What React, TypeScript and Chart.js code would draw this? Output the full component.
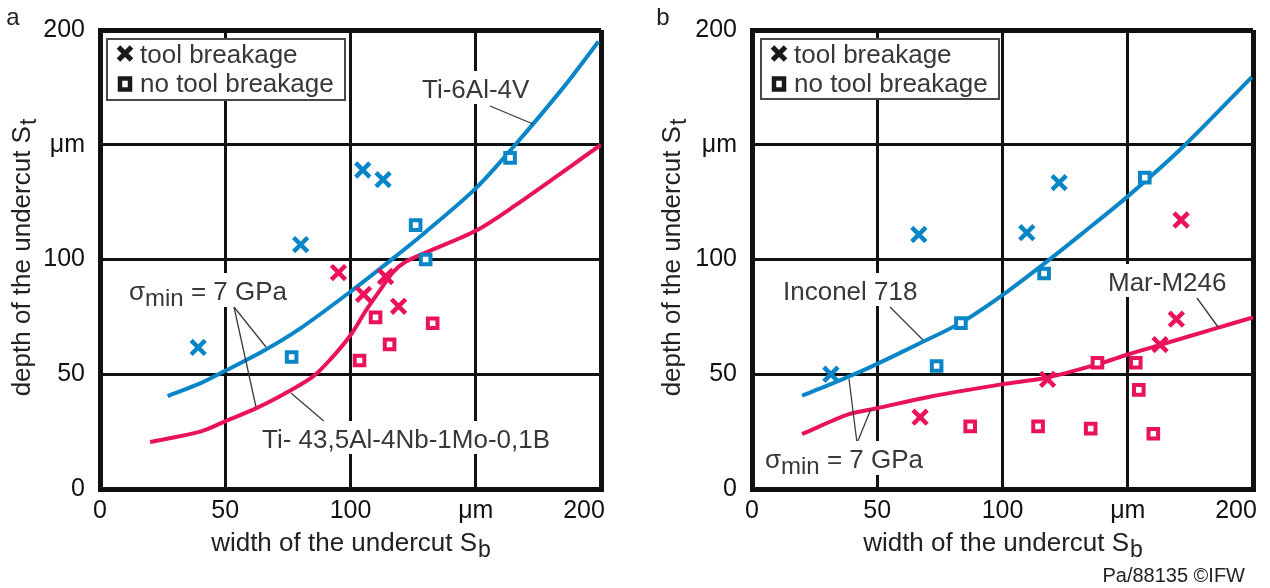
import React, { useEffect, useRef } from "react";
import { Chart, registerables } from "chart.js";

Chart.register(...registerables);

// ---------- shared axis ticks ----------
const tickValues = [0, 50, 100, 150, 200];
const tickLabels = ["0", "50", "100", "μm", "200"];

// ---------- panel a : Ti-6Al-4V (blue) / Ti-43,5Al-4Nb-1Mo-0,1B (red) ----------
const aTi64CurveX = [27, 40, 50, 65, 80, 100, 117, 130, 150, 165, 185, 199];
const aTi64CurveY = [40.5, 46, 51.5, 60, 70, 86, 100.5, 112, 131, 149, 175, 195];
const aTiAlCurveX = [20, 40, 50, 62, 72, 85, 92, 100, 106, 112, 117, 122, 130, 150, 165, 200];
const aTiAlCurveY = [20.5, 25, 29.5, 35, 40.5, 49, 56.5, 67, 77.5, 87, 94.5, 99, 103, 112.5, 123, 150];
const aTi64BreakX = [39.2, 80.1, 104.9, 113];
const aTi64BreakY = [61.7, 106.5, 139, 134.8];
const aTi64NoBreakX = [76.5, 126, 130, 163.7];
const aTi64NoBreakY = [57.5, 115, 100, 144.3];
const aTiAlBreakX = [95.2, 105.2, 114, 119.2];
const aTiAlBreakY = [94.3, 84.8, 92.6, 79.6];
const aTiAlNoBreakX = [110, 132.8, 115.6, 103.6];
const aTiAlNoBreakY = [74.8, 72.2, 63, 56];

// ---------- panel b : Inconel 718 (blue) / Mar-M246 (red) ----------
const bInconelCurveX = [20, 30, 43, 50, 67, 83.5, 100, 117, 132, 150, 172, 199.5];
const bInconelCurveY = [40.7, 45, 51, 54.5, 63.5, 72.5, 84.5, 98.5, 111.5, 127.5, 149, 179.5];
const bMarCurveX = [20, 38.7, 50, 71, 100, 118, 138, 150, 163, 185.5, 200];
const bMarCurveY = [23.9, 32.6, 35.2, 40.2, 45.7, 48.6, 54.4, 58.6, 62.8, 70.1, 74.8];
const bInconelBreakX = [31.5, 66.6, 109.7, 122.6];
const bInconelBreakY = [50, 110.9, 111.7, 133.5];
const bInconelNoBreakX = [73.7, 83.4, 116.6, 156.8];
const bInconelNoBreakY = [53.6, 72.3, 93.9, 135.7];
const bMarBreakX = [67.1, 118, 162.9, 169.4, 171.3];
const bMarBreakY = [31.3, 47.8, 62.9, 74, 117.2];
const bMarNoBreakX = [87.1, 114.2, 135.2, 137.9, 153.2, 154.4, 160.2];
const bMarNoBreakY = [27.3, 27.3, 26.3, 55, 55, 43.2, 24.1];

// ---------- styling ----------
const BLUE = "#0a86c8";
const RED = "#e9125b";
const INK = "#111111";
const TEXT = "#383838";
const FONT = "'Liberation Sans', Arial, Helvetica, sans-serif";
const W = 635;
const H = 588;

const pts = (xs: number[], ys: number[]) => xs.map((x, i) => ({ x, y: ys[i] }));

type TextSpec = { x: number; y: number; text?: string; sigma?: boolean };
type PanelSpec = {
  letter: string;
  letterX: number;
  chartRight: number;
  chartLeft: number;
  yTitleX: number;
  legend: [number, number, number, number];
  texts: TextSpec[];
  leaders: number[][];
  footer: boolean;
};

function markerSets(breakB: any[], noBreakB: any[], breakR: any[], noBreakR: any[]) {
  const cross = (data: any[], color: string) => ({
    data,
    showLine: false,
    pointStyle: "crossRot",
    pointRadius: 10,
    pointBorderWidth: 4.5,
    pointBorderColor: color,
    pointBackgroundColor: color,
  });
  const square = (data: any[], color: string) => ({
    data,
    showLine: false,
    pointStyle: "rect",
    pointRadius: 6.8,
    pointBorderWidth: 4,
    pointBorderColor: color,
    pointBackgroundColor: "#ffffff",
  });
  return [cross(breakB, BLUE), square(noBreakB, BLUE), cross(breakR, RED), square(noBreakR, RED)];
}

function curve(data: any[], color: string) {
  return {
    data,
    showLine: true,
    borderColor: color,
    borderWidth: 4,
    pointRadius: 0,
    fill: false,
    tension: 0.3,
  };
}

function drawSubText(ctx: CanvasRenderingContext2D, main: string, sub: string, x: number, y: number) {
  ctx.font = `26px ${FONT}`;
  ctx.fillText(main, x, y);
  const w = ctx.measureText(main).width;
  ctx.font = `23px ${FONT}`;
  ctx.fillText(sub, x + w + 1, y + 6);
  return w + 1 + ctx.measureText(sub).width;
}

function overlay(spec: PanelSpec) {
  return {
    id: "overlay" + spec.letter,
    afterDraw(chart: any) {
      const ctx: CanvasRenderingContext2D = chart.ctx;
      const xs = chart.scales.x;
      const area = chart.chartArea;
      ctx.save();

      // x tick labels (placed through the x scale)
      ctx.font = `25px ${FONT}`;
      ctx.fillStyle = INK;
      ctx.textBaseline = "alphabetic";
      ctx.textAlign = "center";
      tickValues.forEach((v, i) => {
        let px = xs.getPixelForValue(v);
        if (i === tickValues.length - 1) px -= 17;
        ctx.fillText(tickLabels[i], px, area.bottom + 29);
      });

      // annotation leaders
      ctx.strokeStyle = "#3a3a3a";
      ctx.lineWidth = 1.3;
      spec.leaders.forEach((l) => {
        ctx.beginPath();
        ctx.moveTo(l[0], l[1]);
        ctx.lineTo(l[2], l[3]);
        ctx.stroke();
      });

      // annotation texts with white background
      ctx.textAlign = "left";
      spec.texts.forEach((t) => {
        let w = 0;
        if (t.sigma) {
          ctx.font = `26px ${FONT}`;
          const w1 = ctx.measureText("σ").width;
          ctx.font = `24px ${FONT}`;
          const w2 = ctx.measureText("min").width;
          ctx.font = `26px ${FONT}`;
          const w3 = ctx.measureText(" = 7 GPa").width;
          w = w1 + w2 + w3;
          ctx.fillStyle = "#ffffff";
          ctx.fillRect(t.x - 3, t.y - 27, w + 6, 34);
          ctx.fillStyle = TEXT;
          ctx.font = `26px ${FONT}`;
          ctx.fillText("σ", t.x, t.y);
          ctx.font = `24px ${FONT}`;
          ctx.fillText("min", t.x + w1, t.y + 6);
          ctx.font = `26px ${FONT}`;
          ctx.fillText(" = 7 GPa", t.x + w1 + w2, t.y);
        } else {
          ctx.font = `26px ${FONT}`;
          w = ctx.measureText(t.text || "").width;
          ctx.fillStyle = "#ffffff";
          ctx.fillRect(t.x - 3, t.y - 27, w + 6, 33);
          ctx.fillStyle = TEXT;
          ctx.fillText(t.text || "", t.x, t.y);
        }
      });

      // legend
      const [l, tp, r, b] = spec.legend;
      ctx.fillStyle = "#ffffff";
      ctx.fillRect(l, tp, r - l, b - tp);
      ctx.strokeStyle = "#484848";
      ctx.lineWidth = 2;
      ctx.strokeRect(l, tp, r - l, b - tp);
      ctx.strokeStyle = "#1a1a1a";
      ctx.lineWidth = 5;
      const cx = l + 18;
      ctx.beginPath();
      ctx.moveTo(cx - 6.5, 47);
      ctx.lineTo(cx + 6.5, 60);
      ctx.moveTo(cx + 6.5, 47);
      ctx.lineTo(cx - 6.5, 60);
      ctx.stroke();
      ctx.lineWidth = 4.5;
      ctx.strokeRect(cx - 5, 78.5, 10, 11);
      ctx.fillStyle = TEXT;
      ctx.font = `26px ${FONT}`;
      ctx.fillText("tool breakage", l + 33, 63);
      ctx.fillText("no tool breakage", l + 33, 92);

      // axis titles
      ctx.fillStyle = "#222222";
      const xMain = "width of the undercut S";
      ctx.font = `26px ${FONT}`;
      const xw = ctx.measureText(xMain).width;
      ctx.font = `23px ${FONT}`;
      const xsw = ctx.measureText("b").width;
      const xStart = (area.left + area.right) / 2 - (xw + xsw) / 2;
      drawSubText(ctx, xMain, "b", xStart, 551);

      const yMain = "depth of the undercut S";
      ctx.font = `26px ${FONT}`;
      const yw = ctx.measureText(yMain).width;
      ctx.font = `23px ${FONT}`;
      const ysw = ctx.measureText("t").width;
      ctx.save();
      ctx.translate(spec.yTitleX + 9, 258);
      ctx.rotate(-Math.PI / 2);
      drawSubText(ctx, yMain, "t", -(yw + ysw) / 2, 0);
      ctx.restore();

      // panel letter
      ctx.fillStyle = "#222222";
      ctx.font = `24px ${FONT}`;
      ctx.textAlign = "center";
      ctx.fillText(spec.letter, spec.letterX, 25);

      if (spec.footer) {
        ctx.font = `20px ${FONT}`;
        ctx.textAlign = "right";
        ctx.fillStyle = "#222222";
        ctx.fillText("Pa/88135 ©IFW", 610, 582);
      }
      ctx.restore();
    },
  };
}

function buildConfig(spec: PanelSpec, datasets: any[]) {
  const gridWidth = (c: any) => (c.tick && (c.tick.value === 0 || c.tick.value === 200) ? 5 : 3);
  return {
    type: "scatter",
    data: { datasets },
    options: {
      animation: false,
      responsive: false,
      events: [],
      layout: { padding: { top: 30, left: 0, right: W - spec.chartRight, bottom: 0 } },
      plugins: { legend: { display: false }, tooltip: { enabled: false } },
      scales: {
        x: {
          type: "linear",
          min: 0,
          max: 200,
          ticks: { stepSize: 50, display: false },
          grid: { color: INK, lineWidth: gridWidth, drawTicks: false },
          border: { display: true, color: INK, width: 5 },
          afterFit: (s: any) => {
            s.height = H - 489;
          },
        },
        y: {
          type: "linear",
          min: 0,
          max: 200,
          ticks: {
            stepSize: 50,
            padding: 15,
            color: INK,
            font: { family: FONT, size: 25 },
            callback: (v: number) => tickLabels[tickValues.indexOf(v)] ?? "",
          },
          grid: { color: INK, lineWidth: gridWidth, drawTicks: false },
          border: { display: true, color: INK, width: 5 },
          afterFit: (s: any) => {
            s.width = spec.chartLeft;
          },
        },
      },
    },
    plugins: [overlay(spec)],
  };
}

const specA: PanelSpec = {
  letter: "a",
  letterX: 13,
  chartLeft: 100,
  chartRight: 601,
  yTitleX: 21,
  legend: [107, 39, 345, 100],
  texts: [
    { x: 422, y: 98, text: "Ti-6Al-4V" },
    { x: 129, y: 300, sigma: true },
    { x: 262, y: 448, text: "Ti- 43,5Al-4Nb-1Mo-0,1B" },
  ],
  leaders: [
    [490, 106, 533, 124],
    [234, 307, 266, 347],
    [234, 307, 256, 407],
    [291, 393, 326, 423],
  ],
  footer: false,
};

const specB: PanelSpec = {
  letter: "b",
  letterX: 28,
  chartLeft: 117,
  chartRight: 618,
  yTitleX: 36,
  legend: [126, 39, 364, 99],
  texts: [
    { x: 148, y: 300, text: "Inconel 718" },
    { x: 473, y: 291, text: "Mar-M246" },
    { x: 130, y: 468, sigma: true },
  ],
  leaders: [
    [255, 307, 288, 340],
    [562, 298, 583, 327],
    [222, 443, 214, 379],
    [222, 443, 236, 409],
  ],
  footer: true,
};

function Panel({ spec, datasets, left }: { spec: PanelSpec; datasets: any[]; left: number }) {
  const ref = useRef<HTMLCanvasElement | null>(null);
  useEffect(() => {
    if (!ref.current) return;
    const chart = new Chart(ref.current, buildConfig(spec, datasets) as any);
    return () => chart.destroy();
  }, []);
  return (
    <canvas
      ref={ref}
      width={W}
      height={H}
      style={{ position: "absolute", left, top: 0, width: W, height: H }}
    />
  );
}

export default function App() {
  const dsA = [
    ...markerSets(
      pts(aTi64BreakX, aTi64BreakY),
      pts(aTi64NoBreakX, aTi64NoBreakY),
      pts(aTiAlBreakX, aTiAlBreakY),
      pts(aTiAlNoBreakX, aTiAlNoBreakY)
    ),
    curve(pts(aTi64CurveX, aTi64CurveY), BLUE),
    curve(pts(aTiAlCurveX, aTiAlCurveY), RED),
  ];
  const dsB = [
    ...markerSets(
      pts(bInconelBreakX, bInconelBreakY),
      pts(bInconelNoBreakX, bInconelNoBreakY),
      pts(bMarBreakX, bMarBreakY),
      pts(bMarNoBreakX, bMarNoBreakY)
    ),
    curve(pts(bInconelCurveX, bInconelCurveY), BLUE),
    curve(pts(bMarCurveX, bMarCurveY), RED),
  ];
  return (
    <div
      style={{
        position: "absolute",
        left: 0,
        top: 0,
        width: 1270,
        height: 588,
        background: "#ffffff",
        overflow: "hidden",
      }}
    >
      <Panel spec={specA} datasets={dsA} left={0} />
      <Panel spec={specB} datasets={dsB} left={635} />
    </div>
  );
}
